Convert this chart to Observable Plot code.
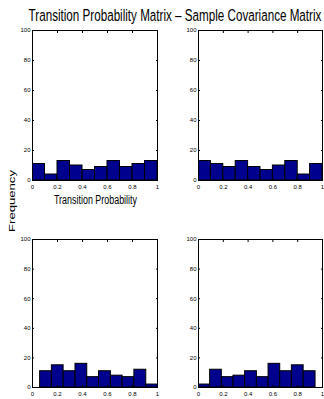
<!DOCTYPE html>
<html><head><meta charset="utf-8">
<script src="https://cdn.jsdelivr.net/npm/d3@7"></script>
<script src="https://cdn.jsdelivr.net/npm/@observablehq/plot@0.6"></script>
<style>
body{margin:0;background:#fff;}
#c{position:relative;width:324px;height:399px;overflow:hidden;background:#fff;}
#c > svg{position:absolute;}
</style></head><body><div id="c"></div>
<script>
const titleText = "Transition Probability Matrix \u2013 Sample Covariance Matrix";
const yLabelText = "Frequency";
const xLabelText = "Transition Probability";
const xTicks = [0, 0.2, 0.4, 0.6, 0.8, 1];
const xTickLabels = ["0", "0.2", "0.4", "0.6", "0.8", "1"];
const yTicks = [0, 20, 40, 60, 80, 100];

const edgesTL = [0, 0.1, 0.2, 0.3, 0.4, 0.5, 0.6, 0.7, 0.8, 0.9, 1.0];
const countsTL = [11, 4, 13, 10, 7, 9, 13, 9, 11, 13];
const edgesTR = [0, 0.1, 0.2, 0.3, 0.4, 0.5, 0.6, 0.7, 0.8, 0.9, 1.0];
const countsTR = [13, 11, 9, 13, 9, 7, 10, 13, 4, 11];
const edgesBL = [0.061, 0.155, 0.249, 0.344, 0.438, 0.532, 0.627, 0.721, 0.815, 0.910, 1.005];
const countsBL = [11, 15, 11, 16, 7, 11, 8, 7, 12, 2];
const edgesBR = [0, 0.094, 0.188, 0.282, 0.376, 0.471, 0.565, 0.659, 0.753, 0.848, 0.944];
const countsBR = [2, 12, 7, 8, 11, 7, 16, 11, 15, 11];

const container = document.getElementById("c");

function panel(edges, counts, box) {
  const bins = counts.map((c, i) => ({x1: edges[i], x2: edges[i + 1], y: c}));
  const p = Plot.plot({
    width: box.width, height: box.height,
    marginTop: box.mt, marginRight: box.mr, marginBottom: box.mb, marginLeft: box.ml,
    x: {domain: [0, 1]},
    y: {domain: [0, 100]},
    style: {fontFamily: "'Liberation Sans Narrow', 'Liberation Sans', Arial, sans-serif", fontSize: "6px", background: "transparent", color: "black"},
    marks: [
      Plot.rectY(bins, {x1: "x1", x2: "x2", y: "y", fill: "#00008F", stroke: "black", strokeWidth: 1, clip: true}),
      Plot.frame({stroke: "black"}),
      Plot.axisX({ticks: xTicks, tickFormat: (d) => xTickLabels[xTicks.indexOf(d)], tickSize: 0, tickPadding: 4, label: null}),
      Plot.axisX({ticks: xTicks, text: null, tickSize: -2, label: null}),
      Plot.axisX({anchor: "top", ticks: xTicks, text: null, tickSize: -2, label: null}),
      Plot.axisY({ticks: yTicks, tickSize: 0, tickPadding: 2, label: null}),
      Plot.axisY({ticks: yTicks, text: null, tickSize: -2, label: null}),
      Plot.axisY({anchor: "right", ticks: yTicks, text: null, tickSize: -2, label: null})
    ]
  });
  p.style.left = box.left + "px";
  p.style.top = box.top + "px";
  container.appendChild(p);
}

panel(edgesTL, countsTL, {left: 0, top: 0, width: 165, height: 200, ml: 32, mr: 8, mt: 30, mb: 20});
panel(edgesTR, countsTR, {left: 165, top: 0, width: 159, height: 200, ml: 33, mr: 2, mt: 30, mb: 20});
panel(edgesBL, countsBL, {left: 0, top: 200, width: 165, height: 199, ml: 32, mr: 8, mt: 39, mb: 12});
panel(edgesBR, countsBR, {left: 165, top: 200, width: 159, height: 199, ml: 33, mr: 2, mt: 39, mb: 12});

// overlay text (condensed by measuring natural width and scaling horizontally)
const ov = d3.create("svg").attr("width", 324).attr("height", 399)
  .style("left", "0px").style("top", "0px").style("pointer-events", "none")
  .attr("font-family", "'Liberation Sans', Arial, sans-serif");
container.appendChild(ov.node());

function squeezed(txt, cx, cy, size, targetLen, rotate) {
  const t = ov.append("text").attr("text-anchor", "middle").attr("font-size", size).text(txt);
  const len = t.node().getComputedTextLength();
  if (rotate) {
    // vertical text: length along y is natural; squeeze glyph height in x
    const s = targetLen / len;
    t.attr("transform", `translate(${cx},${cy}) scale(0.65,1) rotate(-90) scale(${s},1)`);
  } else {
    t.attr("transform", `translate(${cx},${cy}) scale(${targetLen / len},1)`);
  }
}
squeezed(titleText, 175, 20.5, 17, 293, false);
squeezed(xLabelText, 95.5, 204, 12.5, 83, false);
squeezed(yLabelText, 15, 201, 13, 62, true);
</script></body></html>
